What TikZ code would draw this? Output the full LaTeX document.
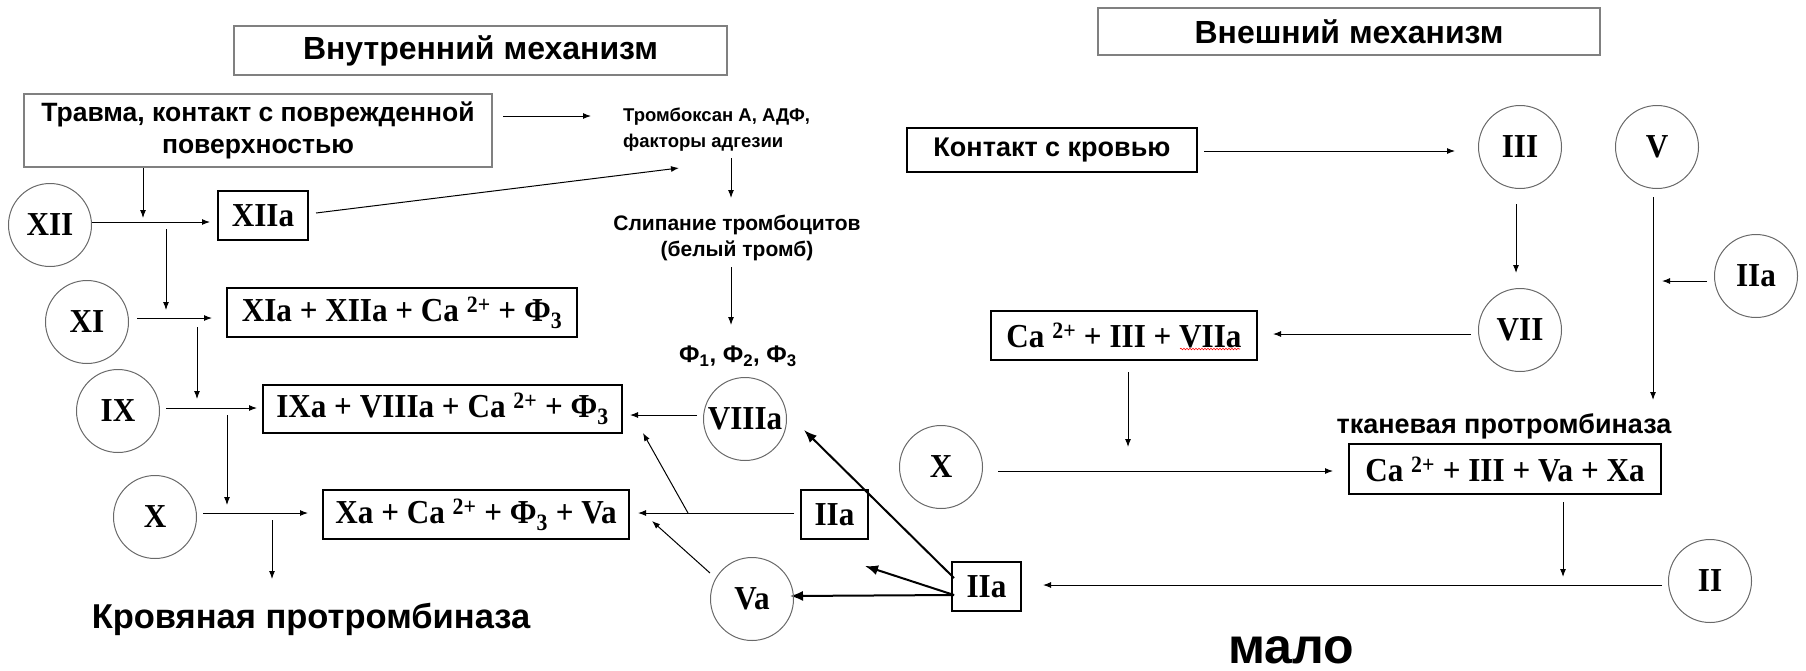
\documentclass[tikz,border=0pt]{standalone}
\usepackage[svgnames]{xcolor}
\usepackage{fontspec}
\setmainfont{Liberation Serif}[FakeStretch=0.93]
\newfontfamily\arialf{Liberation Sans}
\usepackage{tikz}
\usetikzlibrary{arrows.meta}
\usetikzlibrary{decorations.pathmorphing}
\pgfdeclarelayer{edgelayer}
\pgfdeclarelayer{nodelayer}
\pgfsetlayers{edgelayer,nodelayer,main}
\newcommand{\romf}{\fontsize{33.5pt}{38pt}\selectfont\bfseries}
\newcommand{\labf}[2]{\arialf\bfseries\fontsize{#1}{#2}\selectfont}
\tikzset{>={Latex[length=8pt,width=6pt]}}
\tikzstyle{none}=[inner sep=0pt]
\tikzstyle{fc}=[circle,draw=DimGray,line width=1pt,minimum size=83pt,inner sep=0pt,font=\romf]
\tikzstyle{fb}=[rectangle,draw=Black,line width=1.2pt,inner sep=0pt,font=\romf]
\tikzstyle{hb}=[rectangle,draw=Gray,line width=1.4pt,inner sep=0pt]
\tikzstyle{lab}=[inner sep=0pt]
\tikzstyle{arrow}=[->,draw=Black,line width=1pt]
\tikzstyle{bigarrow}=[-{Latex[length=13pt,width=10pt]},draw=Black,line width=2pt]
\tikzstyle{squiggle}=[draw=Red,line width=0.6pt,decorate,decoration={snake,amplitude=0.8pt,segment length=3pt}]

\begin{document}
\begin{tikzpicture}[x=10pt,y=-10pt]
	\useasboundingbox (0,0) rectangle (180.6,67);
	\begin{pgfonlayer}{nodelayer}
		\node [style=hb, minimum width=493pt, minimum height=49pt, font=\labf{32pt}{36pt}] (0) at (48.05, 5.05) {Внутренний механизм};
		\node [style=hb, minimum width=502pt, minimum height=47pt, font=\labf{32pt}{36pt}] (1) at (134.9, 3.15) {Внешний механизм};
		\node [style=hb, minimum width=468pt, minimum height=73pt, align=center, font=\labf{26.5pt}{32pt}] (2) at (25.8, 13.05) {Травма, контакт с поврежденной\\поверхностью};
		\node [style=lab, anchor=west, align=left, font=\labf{18.5pt}{26pt}] (3) at (62.3, 13.0) {Тромбоксан А, АДФ,\\факторы адгезии};
		\node [style=lab, align=center, font=\labf{21pt}{26pt}] (4) at (73.7, 23.8) {Слипание тромбоцитов\\(белый тромб)};
		\node [style=lab, font=\labf{24pt}{26pt}] (5) at (73.8, 35.6) {Ф\textsubscript{1}, Ф\textsubscript{2}, Ф\textsubscript{3}};
		\node [style=fc] (6) at (5.0, 22.5) {XII};
		\node [style=fb, minimum width=90pt, minimum height=49pt] (7) at (26.3, 21.55) {XIIa};
		\node [style=fc] (8) at (8.7, 32.2) {XI};
		\node [style=fb, minimum width=350pt, minimum height=49pt] (9) at (40.2, 31.25) {XIa + XIIa + Ca \textsuperscript{2+} + Ф\textsubscript{3}};
		\node [style=fc] (10) at (11.8, 41.1) {IX};
		\node [style=fb, minimum width=359pt, minimum height=48pt] (11) at (44.25, 40.9) {IXa + VIIIa + Ca \textsuperscript{2+} + Ф\textsubscript{3}};
		\node [style=fc] (12) at (15.5, 51.7) {X};
		\node [style=fb, minimum width=306pt, minimum height=49pt] (13) at (47.6, 51.45) {Xa + Ca \textsuperscript{2+} + Ф\textsubscript{3} + Va};
		\node [style=lab, anchor=base, font=\labf{34.5pt}{40pt}] (14) at (31.1, 62.8) {Кровяная протромбиназа};
		\node [style=fc] (15) at (74.5, 41.9) {VIIIa};
		\node [style=fb, minimum width=67pt, minimum height=49pt] (16) at (83.45, 51.45) {IIa};
		\node [style=fc] (17) at (75.2, 59.9) {Va};
		\node [style=fb, minimum width=69pt, minimum height=49pt] (18) at (98.65, 58.65) {IIa};
		\node [style=fb, minimum width=290pt, minimum height=44pt, font=\labf{27pt}{30pt}] (19) at (105.2, 15.0) {Контакт с кровью};
		\node [style=fc] (20) at (152.0, 14.7) {III};
		\node [style=fc] (21) at (165.7, 14.7) {V};
		\node [style=fc] (22) at (152.0, 33.0) {VII};
		\node [style=fc] (23) at (175.6, 27.6) {IIa};
		\node [style=fb, minimum width=266pt, minimum height=49pt] (24) at (112.4, 33.55) {Ca \textsuperscript{2+} + III + VIIa};
		\node [style=fc] (25) at (94.1, 46.7) {X};
		\node [style=lab, anchor=base, font=\labf{27pt}{30pt}] (26) at (150.4, 43.3) {тканевая протромбиназа};
		\node [style=fb, minimum width=312pt, minimum height=50pt] (27) at (150.5, 46.9) {Ca \textsuperscript{2+} + III + Va + Xa};
		\node [style=fc] (28) at (171.0, 58.1) {II};
		\node [style=lab, anchor=base, font=\labf{50pt}{54pt}] (29) at (129.15, 66.3) {мало};
		\node [style=none] (30) at (50.3, 11.6) {};
		\node [style=none] (31) at (59.1, 11.6) {};
		\node [style=none] (32) at (73.1, 15.8) {};
		\node [style=none] (33) at (73.1, 19.8) {};
		\node [style=none] (34) at (73.1, 26.7) {};
		\node [style=none] (35) at (73.1, 32.5) {};
		\node [style=none] (36) at (31.6, 21.3) {};
		\node [style=none] (37) at (67.9, 16.8) {};
		\node [style=none] (38) at (9.1, 22.2) {};
		\node [style=none] (39) at (21.0, 22.2) {};
		\node [style=none] (40) at (14.3, 16.7) {};
		\node [style=none] (41) at (14.3, 21.8) {};
		\node [style=none] (42) at (16.6, 22.9) {};
		\node [style=none] (43) at (16.6, 31.0) {};
		\node [style=none] (44) at (13.7, 31.8) {};
		\node [style=none] (45) at (21.2, 31.8) {};
		\node [style=none] (46) at (19.7, 32.7) {};
		\node [style=none] (47) at (19.7, 39.9) {};
		\node [style=none] (48) at (16.6, 40.8) {};
		\node [style=none] (49) at (25.7, 40.8) {};
		\node [style=none] (50) at (22.7, 41.5) {};
		\node [style=none] (51) at (22.7, 50.5) {};
		\node [style=none] (52) at (20.3, 51.3) {};
		\node [style=none] (53) at (30.8, 51.3) {};
		\node [style=none] (54) at (27.2, 52.0) {};
		\node [style=none] (55) at (27.2, 57.9) {};
		\node [style=none] (56) at (69.7, 41.5) {};
		\node [style=none] (57) at (63.0, 41.5) {};
		\node [style=none] (58) at (79.4, 51.3) {};
		\node [style=none] (59) at (63.8, 51.3) {};
		\node [style=none] (60) at (68.8, 51.3) {};
		\node [style=none] (61) at (64.3, 43.3) {};
		\node [style=none] (62) at (71.0, 57.3) {};
		\node [style=none] (63) at (65.2, 52.1) {};
		\node [style=none] (64) at (95.4, 57.8) {};
		\node [style=none] (65) at (80.4, 43.0) {};
		\node [style=none] (66) at (95.4, 59.5) {};
		\node [style=none] (67) at (86.5, 56.6) {};
		\node [style=none] (68) at (79.0, 59.6) {};
		\node [style=none] (69) at (120.4, 15.1) {};
		\node [style=none] (70) at (145.5, 15.1) {};
		\node [style=none] (71) at (151.6, 20.4) {};
		\node [style=none] (72) at (151.6, 27.3) {};
		\node [style=none] (73) at (147.1, 33.4) {};
		\node [style=none] (74) at (127.3, 33.4) {};
		\node [style=none] (75) at (165.3, 19.7) {};
		\node [style=none] (76) at (165.3, 40.0) {};
		\node [style=none] (77) at (170.7, 28.1) {};
		\node [style=none] (78) at (166.2, 28.1) {};
		\node [style=none] (79) at (112.8, 37.2) {};
		\node [style=none] (80) at (112.8, 44.7) {};
		\node [style=none] (81) at (99.8, 47.1) {};
		\node [style=none] (82) at (133.3, 47.1) {};
		\node [style=none] (83) at (156.3, 50.2) {};
		\node [style=none] (84) at (156.3, 57.7) {};
		\node [style=none] (85) at (166.2, 58.5) {};
		\node [style=none] (86) at (104.3, 58.5) {};
		\node [style=none] (87) at (118.0, 34.9) {};
		\node [style=none] (88) at (124.0, 34.9) {};
	\end{pgfonlayer}
	\begin{pgfonlayer}{edgelayer}
		\draw [style=arrow] (30.center) to (31.center);
		\draw [style=arrow] (32.center) to (33.center);
		\draw [style=arrow] (34.center) to (35.center);
		\draw [style=arrow] (36.center) to (37.center);
		\draw [style=arrow] (38.center) to (39.center);
		\draw [style=arrow] (40.center) to (41.center);
		\draw [style=arrow] (42.center) to (43.center);
		\draw [style=arrow] (44.center) to (45.center);
		\draw [style=arrow] (46.center) to (47.center);
		\draw [style=arrow] (48.center) to (49.center);
		\draw [style=arrow] (50.center) to (51.center);
		\draw [style=arrow] (52.center) to (53.center);
		\draw [style=arrow] (54.center) to (55.center);
		\draw [style=arrow] (56.center) to (57.center);
		\draw [style=arrow] (58.center) to (59.center);
		\draw [style=arrow] (60.center) to (61.center);
		\draw [style=arrow] (62.center) to (63.center);
		\draw [style=bigarrow] (64.center) to (65.center);
		\draw [style=bigarrow] (66.center) to (67.center);
		\draw [style=bigarrow] (66.center) to (68.center);
		\draw [style=arrow] (69.center) to (70.center);
		\draw [style=arrow] (71.center) to (72.center);
		\draw [style=arrow] (73.center) to (74.center);
		\draw [style=arrow] (75.center) to (76.center);
		\draw [style=arrow] (77.center) to (78.center);
		\draw [style=arrow] (79.center) to (80.center);
		\draw [style=arrow] (81.center) to (82.center);
		\draw [style=arrow] (83.center) to (84.center);
		\draw [style=arrow] (85.center) to (86.center);
		\draw [style=squiggle] (87.center) to (88.center);
	\end{pgfonlayer}
\end{tikzpicture}
\end{document}
